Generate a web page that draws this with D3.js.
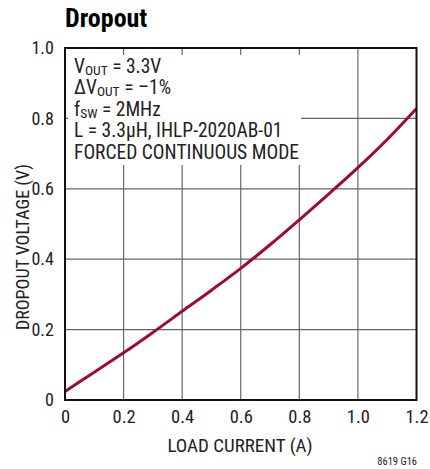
<!DOCTYPE html>
<html><head><meta charset="utf-8">
<script src="https://cdn.jsdelivr.net/npm/d3@7"></script>
<style>
html,body{margin:0;padding:0;background:#fff;}
svg text{font-family:"Liberation Sans Narrow","Roboto Condensed","Liberation Sans",Arial,sans-serif;fill:#222;}
</style></head>
<body><svg id="c" width="430" height="469"></svg>
<script>
const loadCurrent = [0, 0.1, 0.2, 0.3, 0.4, 0.5, 0.6, 0.7, 0.8, 0.9, 1.0, 1.1, 1.2];
const dropoutVoltage = [0.024, 0.079, 0.134, 0.192, 0.252, 0.312, 0.374, 0.441, 0.512, 0.585, 0.660, 0.740, 0.828];
const xTicks = [0, 0.2, 0.4, 0.6, 0.8, 1.0, 1.2];
const xTickLabels = ["0", "0.2", "0.4", "0.6", "0.8", "1.0", "1.2"];
const yTicks = [0, 0.2, 0.4, 0.6, 0.8, 1.0];
const yTickLabels = ["0", "0.2", "0.4", "0.6", "0.8", "1.0"];

const svg = d3.select("#c");
const m = {l:65, r:416.5, t:48, b:400};
const x = d3.scaleLinear().domain([0,1.2]).range([m.l, m.r]);
const y = d3.scaleLinear().domain([0,1.0]).range([m.b, m.t]);

// grid
const g = svg.append("g");
g.selectAll(".vx").data(xTicks.slice(1,-1)).enter().append("line")
  .attr("x1", d=>x(d)).attr("x2", d=>x(d)).attr("y1", m.t).attr("y2", m.b)
  .attr("stroke", "#666").attr("stroke-width", 1.2);
g.selectAll(".hy").data(yTicks.slice(1,-1)).enter().append("line")
  .attr("y1", d=>y(d)).attr("y2", d=>y(d)).attr("x1", m.l).attr("x2", m.r)
  .attr("stroke", "#666").attr("stroke-width", 1.2);

// annotation box background
svg.append("rect").attr("x", 68).attr("y", 55).attr("width", 233).attr("height", 110).attr("fill", "#fff");

// curve
const line = d3.line().x((d,i)=>x(loadCurrent[i])).y(d=>y(d)).curve(d3.curveMonotoneX);
svg.append("path").datum(dropoutVoltage).attr("d", line)
  .attr("fill", "none").attr("stroke", "#9e0b2f").attr("stroke-width", 3);

// frame
svg.append("rect").attr("x", m.l).attr("y", m.t).attr("width", m.r-m.l).attr("height", m.b-m.t)
  .attr("fill", "none").attr("stroke", "#111").attr("stroke-width", 2);

// axes labels
const xa = d3.axisBottom(x).tickValues(xTicks).tickFormat((d,i)=>xTickLabels[i]).tickSize(0).tickPadding(10);
const xg = svg.append("g").attr("transform", `translate(0,${m.b})`).call(xa);
xg.select(".domain").remove();
xg.selectAll("text").attr("font-size", 18.5).style("fill","#222")
  .attr("font-family", '"Liberation Sans Narrow","Liberation Sans",sans-serif');
const ya = d3.axisLeft(y).tickValues(yTicks).tickFormat((d,i)=>yTickLabels[i]).tickSize(0).tickPadding(11);
const yg = svg.append("g").attr("transform", `translate(${m.l},0)`).call(ya);
yg.select(".domain").remove();
yg.selectAll("text").attr("font-size", 18).style("fill","#222")
  .attr("font-family", '"Liberation Sans Narrow","Liberation Sans",sans-serif');

svg.append("text").attr("x", 240).attr("y", 452).attr("text-anchor", "middle")
  .attr("font-size", 19).text("LOAD CURRENT (A)");
svg.append("text").attr("transform", "translate(29,247) rotate(-90)").attr("text-anchor", "middle")
  .attr("font-size", 18).text("DROPOUT VOLTAGE (V)");

svg.append("text").attr("x", 65).attr("y", 27).attr("font-size", 26).attr("font-weight", "bold")
  .style("fill","#000").text("Dropout");
svg.append("text").attr("x", 417).attr("y", 465).attr("text-anchor", "end")
  .attr("font-size", 10.5).text("8619 G16");

// annotation
const ann = svg.append("g");
function addLine(yy, parts){
  const t = ann.append("text").attr("x", 74).attr("y", yy).attr("font-size", 19.5);
  parts.forEach(p=>{
    const s = t.append("tspan").text(p[0]);
    if (p[1]) s.attr("font-size", 13.5).attr("dy", 2);
    else if (p[2]) s.attr("dy", -2);
  });
}
addLine(72.5, [["V"],["OUT",1],[" = 3.3V",0,1]]);
addLine(94, [["ΔV"],["OUT",1],[" = –1%",0,1]]);
addLine(115.5, [["f"],["SW",1],[" = 2MHz",0,1]]);
addLine(137, [["L = 3.3µH, IHLP-2020AB-01"]]);
addLine(158.5, [["FORCED CONTINUOUS MODE"]]);
</script></body></html>
